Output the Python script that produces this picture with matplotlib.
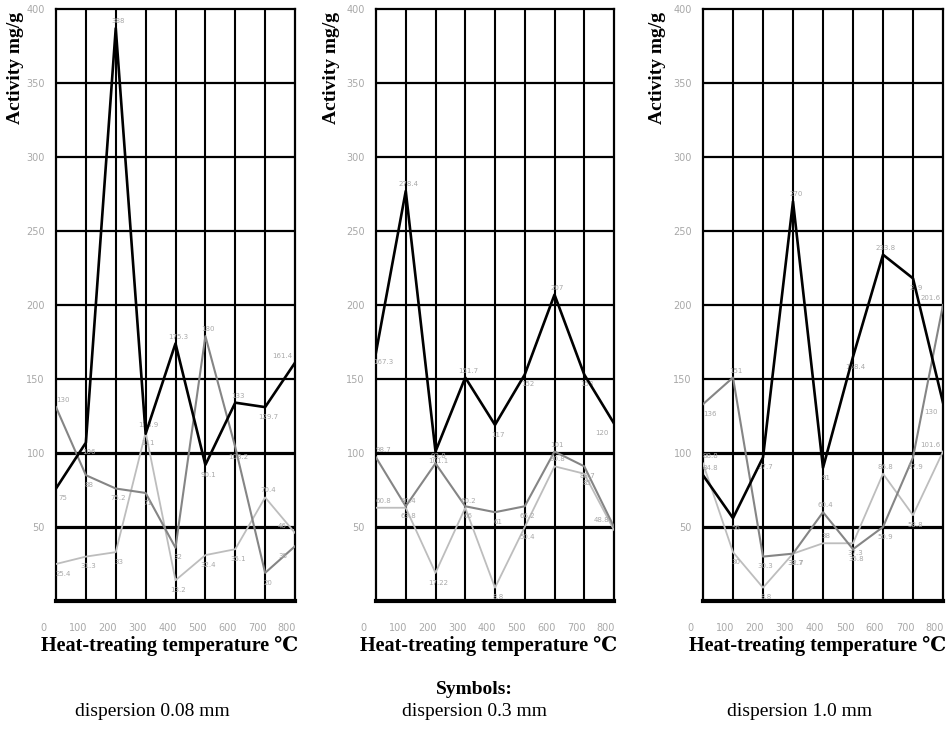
import matplotlib.pyplot as plt
from matplotlib.transforms import ScaledTranslation

# temperatures de traitement (axe x), communes aux trois panneaux
temperatures = [0, 100, 200, 300, 400, 500, 600, 700, 800]

# panneau 1 : dispersion 0.08 mm
p1_noir = [76, 107, 387, 113, 174, 92, 134, 131, 161]
p1_gris = [131, 85, 76, 73, 36, 179, 104, 19, 37]
p1_clair = [25, 30, 33, 114, 14, 31, 35, 70, 46]
p1_noir_txt = ["75", "106", "388", "111", "175.3", "90.1", "133", "129.7", "161.4"]
p1_gris_txt = ["130", "88", "75.2", "71", "32", "180", "103.2", "20", "38"]
p1_clair_txt = ["25.4", "31.3", "33", "113.9", "13.2", "32.4", "35.1", "70.4", "46"]

# panneau 2 : dispersion 0.3 mm
p2_noir = [168, 277, 101, 151, 119, 153, 207, 153, 120]
p2_gris = [97, 64, 93, 64, 60, 64, 101, 91, 50]
p2_clair = [63, 63, 19, 63, 9, 50, 91, 86, 48]
p2_noir_txt = ["167.3", "278.4", "101.1", "151.7", "117", "152", "207", "153", "120"]
p2_gris_txt = ["98.7", "63.8", "93.8", "66", "61", "66.2", "101", "88.7", "48.8"]
p2_clair_txt = ["60.8", "60.4", "17.22", "60.2", "8.8", "50.4", "90.8", "85", ""]

# panneau 3 : dispersion 1.0 mm
p3_noir = [85, 56, 97, 270, 90, 165, 234, 218, 134]
p3_gris = [133, 151, 30, 32, 60, 35, 50, 97, 200]
p3_clair = [93, 33, 9, 32, 39, 39, 86, 58, 101]
p3_noir_txt = ["84.8", "56", "97.7", "270", "91", "168.4", "233.8", "219", "130"]
p3_gris_txt = ["136", "151", "30.3", "33.7", "60.4", "35.8", "50.9", "97.9", "201.6"]
p3_clair_txt = ["88.8", "30", "8.8", "32.7", "38", "37.3", "86.8", "58.8", "101.6"]

y_ticks = [50, 100, 150, 200, 250, 300, 350, 400]
y_tick_labels = ["50", "100", "150", "200", "250", "300", "350", "400"]
x_tick_labels = ["0", "100", "200", "300", "400", "500", "600", "700", "800"]

ylabel = "Activity mg/g"
xlabel = "Heat-treating temperature ℃"
legende = ["dispersion 0.08 mm", "dispersion 0.3 mm", "dispersion 1.0 mm"]

serif = ["Liberation Serif", "DejaVu Serif", "DejaVu Sans"]
gris_txt = "#a8a8a8"


def etiquettes(ax, xs, ys, textes, couleur, autres_fins):
    """Petites valeurs grises a cote de chaque point."""
    n = len(ys)
    for i, (x, y, t) in enumerate(zip(xs, ys, textes)):
        if not t:
            continue
        avant = ys[i - 1] if i > 0 else ys[i + 1]
        apres = ys[i + 1] if i < n - 1 else ys[i - 1]
        haut = y >= avant and y >= apres
        if i == n - 1:
            # dernier point : eviter de chevaucher une autre serie proche
            proches = [v for v in autres_fins if abs(v - y) < 20]
            if proches:
                haut = y > max(proches)
        dy = 5 if haut else -7
        dx = -9 if i == n - 1 else (5 if i == 0 else 2)
        ax.annotate(t, (x, y), xytext=(dx, dy), textcoords="offset points",
                    fontsize=5, color=couleur, ha="center", va="center",
                    family=["Liberation Sans Narrow", "DejaVu Sans"])


def panneau(fig, rect, noir, gris, clair, noir_txt, gris_txt_l, clair_txt):
    ax = fig.add_axes(rect)
    ax.set_xlim(0, 800)
    ax.set_ylim(0, 400)

    # grille noire epaisse
    for x in temperatures[1:-1]:
        ax.axvline(x, color="black", lw=1.5, zorder=1)
    for y in y_ticks[:-1]:
        ax.axhline(y, color="black", lw=2.3 if y <= 100 else 1.6, zorder=1)
    for s in ax.spines.values():
        s.set_linewidth(1.6)
    ax.spines["bottom"].set_linewidth(3)

    ax.plot(temperatures, clair, color="#bdbdbd", lw=1.3, zorder=3)
    ax.plot(temperatures, gris, color="#858585", lw=1.5, zorder=3)
    ax.plot(temperatures, noir, color="black", lw=1.9, zorder=4)

    fins = [noir[-1], gris[-1], clair[-1]]
    etiquettes(ax, temperatures, noir, noir_txt, gris_txt, [fins[1], fins[2]])
    etiquettes(ax, temperatures, gris, gris_txt_l, gris_txt, [fins[0], fins[2]])
    etiquettes(ax, temperatures, clair, clair_txt, gris_txt, [fins[0], fins[1]])

    ax.set_xticks(temperatures)
    ax.set_xticklabels(x_tick_labels)
    ax.set_yticks(y_ticks)
    ax.set_yticklabels(y_tick_labels)
    ax.tick_params(length=0, labelsize=7, labelcolor=gris_txt)
    ax.tick_params(axis="x", pad=16)
    ax.tick_params(axis="y", pad=8)
    for lbl in ax.get_xticklabels():
        dec = -13 if lbl.get_text() == "0" else -8
        lbl.set_transform(lbl.get_transform() + ScaledTranslation(dec / 100, 0, fig.dpi_scale_trans))
    return ax


fig = plt.figure(figsize=(9.48, 7.34), dpi=100)
W, H = 948, 734

positions = [56, 376, 703]
largeurs = [239, 238, 240]
donnees = [
    (p1_noir, p1_gris, p1_clair, p1_noir_txt, p1_gris_txt, p1_clair_txt),
    (p2_noir, p2_gris, p2_clair, p2_noir_txt, p2_gris_txt, p2_clair_txt),
    (p3_noir, p3_gris, p3_clair, p3_noir_txt, p3_gris_txt, p3_clair_txt),
]
ylabel_x = [16, 332, 658]
xlabel_x = [170, 489, 818]
legende_x = [152, 474, 800]

for i in range(3):
    rect = [positions[i] / W, (H - 601) / H, largeurs[i] / W, 592 / H]
    panneau(fig, rect, *donnees[i])
    fig.text(ylabel_x[i] / W, 1 - 12 / H, ylabel, rotation=90, ha="center", va="top",
             fontsize=14, fontweight="bold", family=serif)
    fig.text(xlabel_x[i] / W, 1 - 646 / H, xlabel, ha="center", va="center",
             fontsize=14.5, fontweight="bold", family=serif)
    fig.text(legende_x[i] / W, 1 - 712 / H, legende[i], ha="center", va="center",
             fontsize=14, family=serif)

fig.text(474 / W, 1 - 689 / H, "Symbols:", ha="center", va="center",
         fontsize=14, fontweight="bold", family=serif)

fig.savefig("out.png", dpi=100)
